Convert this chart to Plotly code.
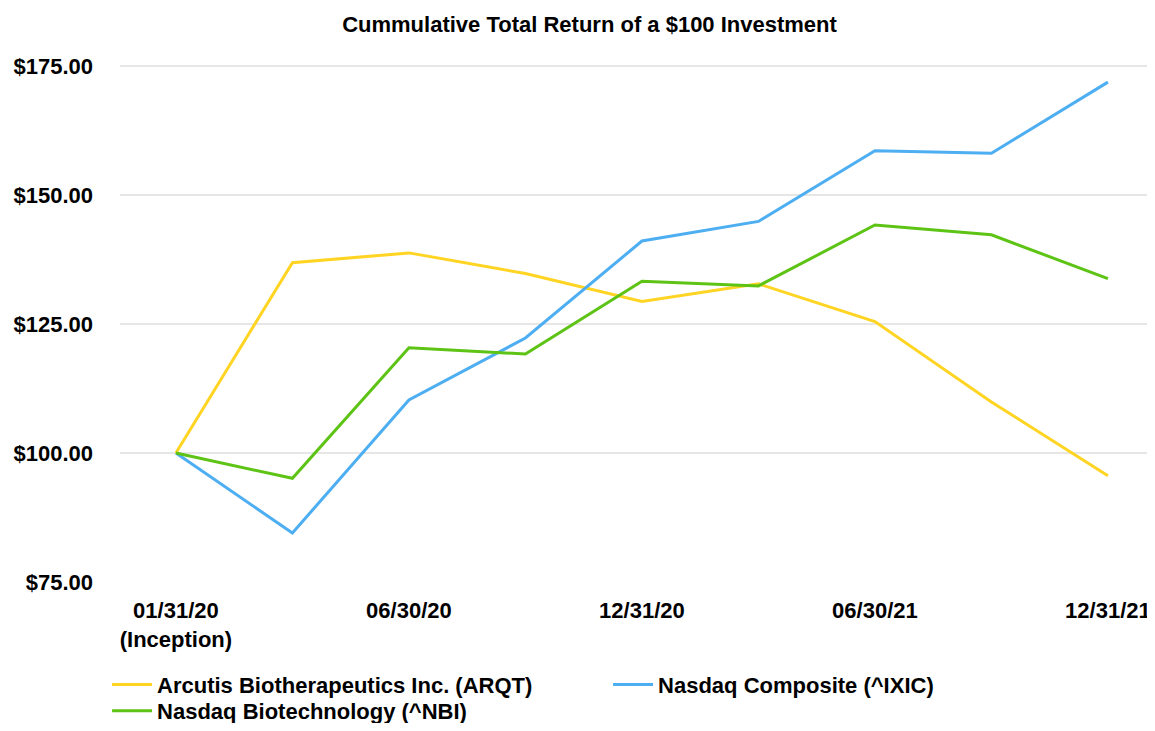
import plotly.graph_objects as go

dates = ["01/31/20", "03/31/20", "06/30/20", "09/30/20", "12/31/20",
         "03/31/21", "06/30/21", "09/30/21", "12/31/21"]
tick_dates = ["01/31/20", "06/30/20", "12/31/20", "06/30/21", "12/31/21"]
tick_text = ["01/31/20<br>(Inception)", "06/30/20", "12/31/20", "06/30/21", "12/31/21"]

arqt = [100.0, 136.9, 138.8, 134.8, 129.4, 132.8, 125.5, 109.9, 95.6]
ixic = [100.0, 84.5, 110.3, 122.3, 141.1, 144.9, 158.6, 158.1, 171.9]
nbi = [100.0, 95.1, 120.4, 119.2, 133.3, 132.4, 144.2, 142.3, 133.8]

y_ticks = [75, 100, 125, 150, 175]
y_tick_text = ["$75.00", "$100.00", "$125.00", "$150.00", "$175.00"]

FONT = "Liberation Sans, Arial, sans-serif"
FS = 22

fig = go.Figure()
fig.add_trace(go.Scatter(x=dates, y=arqt, mode="lines",
                         name="Arcutis Biotherapeutics Inc. (ARQT)",
                         line=dict(color="#FFD423", width=3), legend="legend"))
fig.add_trace(go.Scatter(x=dates, y=ixic, mode="lines",
                         name="Nasdaq Composite (^IXIC)",
                         line=dict(color="#4DAEF2", width=3), legend="legend"))
fig.add_trace(go.Scatter(x=dates, y=nbi, mode="lines",
                         name="Nasdaq Biotechnology (^NBI)",
                         line=dict(color="#5DC314", width=3), legend="legend2"))

legend_font = dict(family=FONT, size=FS, color="black", weight="bold")

fig.update_layout(
    width=1147, height=715,
    paper_bgcolor="white", plot_bgcolor="white",
    margin=dict(l=112, r=0, t=53, b=141, autoexpand=False),
    title=dict(text="Cummulative Total Return of a $100 Investment",
               x=0.507, xref="container", xanchor="center",
               y=1 - 16 / 715, yref="container", yanchor="middle",
               font=dict(family=FONT, size=FS, color="black", weight="bold")),
    font=dict(family=FONT, color="black"),
    showlegend=True,
    legend=dict(orientation="h", x=-0.0125, xanchor="left", y=-0.157, yanchor="top",
                entrywidth=446, itemwidth=40, traceorder="normal",
                font=legend_font, bgcolor="rgba(0,0,0,0)"),
    legend2=dict(orientation="h", x=-0.0125, xanchor="left", y=-0.207, yanchor="top",
                 itemwidth=40, font=legend_font, bgcolor="rgba(0,0,0,0)"),
)
fig.update_xaxes(type="category", categoryorder="array", categoryarray=dates,
                 range=[-0.48, 8.404],
                 tickmode="array", tickvals=tick_dates, ticktext=tick_text,
                 showgrid=False, zeroline=False, showline=False, ticks="",
                 ticklabelstandoff=13,
                 tickfont=dict(family=FONT, size=FS, color="black", weight="bold"))
fig.update_yaxes(range=[75, 176], tickmode="array", tickvals=y_ticks, ticktext=y_tick_text,
                 showgrid=True, gridcolor="#E6E6E6", gridwidth=1.5,
                 zeroline=False, showline=False, ticks="",
                 ticklabelstandoff=26,
                 tickfont=dict(family=FONT, size=FS, color="black", weight="bold"))

fig.write_html("out.html")
